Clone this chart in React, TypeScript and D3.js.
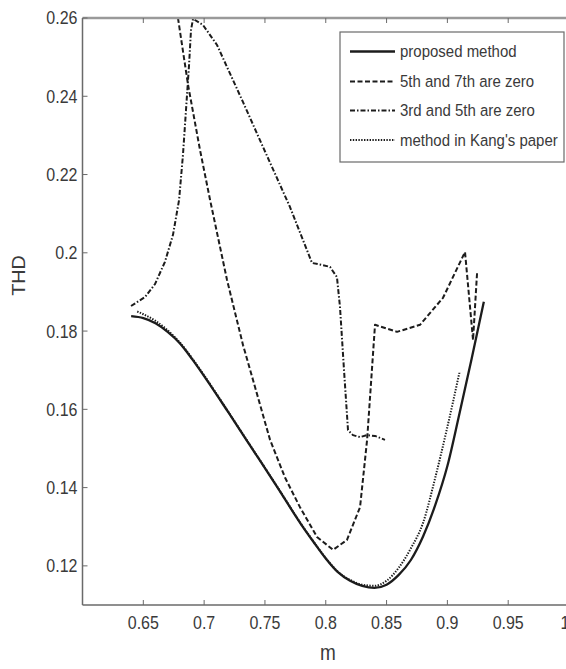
import React from "react";
import * as d3 from "d3";

// ---- data ----
const xTicks = [0.65, 0.7, 0.75, 0.8, 0.85, 0.9, 0.95, 1];
const yTicks = [0.12, 0.14, 0.16, 0.18, 0.2, 0.22, 0.24, 0.26];

const proposedM = [0.64, 0.65, 0.66, 0.67, 0.68, 0.69, 0.7, 0.72, 0.74, 0.76, 0.78, 0.79, 0.8, 0.81, 0.82, 0.83, 0.84, 0.85, 0.86, 0.87, 0.88, 0.89, 0.9, 0.91, 0.92, 0.93];
const proposedTHD = [0.1838, 0.1833, 0.182, 0.1798, 0.1769, 0.1729, 0.1685, 0.1592, 0.1497, 0.1402, 0.1305, 0.1261, 0.1219, 0.1184, 0.1162, 0.1149, 0.1144, 0.1152, 0.1177, 0.1215, 0.1275, 0.1355, 0.1455, 0.159, 0.173, 0.1875];

const kangM = [0.645, 0.65, 0.66, 0.67, 0.68, 0.69, 0.7, 0.72, 0.74, 0.76, 0.78, 0.79, 0.8, 0.81, 0.82, 0.83, 0.84, 0.85, 0.86, 0.87, 0.88, 0.89, 0.9, 0.91];
const kangTHD = [0.185, 0.1843, 0.1826, 0.1802, 0.1771, 0.1731, 0.1687, 0.1593, 0.1498, 0.1403, 0.1306, 0.1262, 0.122, 0.1185, 0.1164, 0.1152, 0.1149, 0.1162, 0.1195, 0.1245, 0.131, 0.1425, 0.1555, 0.1695];

const zero57M = [0.6785, 0.6868, 0.6966, 0.7049, 0.7188, 0.732, 0.7402, 0.7542, 0.7666, 0.7788, 0.7928, 0.806, 0.8174, 0.8282, 0.834, 0.8405, 0.8586, 0.8775, 0.8964, 0.9145, 0.9211, 0.9244];
const zero57THD = [0.26, 0.2429, 0.2263, 0.2135, 0.1931, 0.1764, 0.1675, 0.1522, 0.1425, 0.135, 0.1274, 0.1241, 0.1266, 0.135, 0.1522, 0.1816, 0.1798, 0.1816, 0.1885, 0.2002, 0.1777, 0.1948];

const zero35M = [0.6399, 0.6514, 0.6596, 0.6678, 0.6744, 0.6794, 0.6826, 0.6851, 0.6876, 0.6892, 0.6909, 0.6991, 0.7106, 0.732, 0.7476, 0.7706, 0.7887, 0.7969, 0.8035, 0.8092, 0.8117, 0.815, 0.8183, 0.8224, 0.8282, 0.8339, 0.8405, 0.8487];
const zero35THD = [0.1864, 0.1887, 0.192, 0.1977, 0.2046, 0.2135, 0.225, 0.2365, 0.248, 0.2569, 0.2598, 0.2582, 0.2531, 0.2385, 0.2276, 0.2117, 0.1974, 0.1969, 0.1964, 0.1938, 0.1862, 0.1701, 0.1547, 0.1534, 0.1529, 0.1534, 0.1532, 0.1522];

const legendLabels = ["proposed method", "5th and 7th are zero", "3rd and 5th are zero", "method in Kang's paper"];

// ---- layout ----
const W = 566;
const H = 669;
const left = 82.5;
const right = 569;
const top = 18;
const bottom = 605;

const FONT = "'Liberation Sans', Arial, Helvetica, sans-serif";

function TallText(props: { x: number; y: number; size: number; anchor?: string; fill: string; sy?: number; children: React.ReactNode }) {
  const sy = props.sy ?? 1.15;
  return (
    <g transform={`translate(${props.x},${props.y}) scale(1,${sy})`}>
      <text x={0} y={0} dy="0.35em" textAnchor={props.anchor || "start"} fontSize={props.size} fill={props.fill}>
        {props.children}
      </text>
    </g>
  );
}

export default function App() {
  const x = d3.scaleLinear().domain([0.6, 1.0]).range([left, right]);
  const y = d3.scaleLinear().domain([0.11, 0.26]).range([bottom, top]);
  const zip = (a: number[], b: number[]) => a.map((v, i) => [v, b[i]] as [number, number]);
  const smooth = d3
    .line<[number, number]>()
    .x((d) => x(d[0]))
    .y((d) => y(d[1]))
    .curve(d3.curveMonotoneX);
  const straight = d3
    .line<[number, number]>()
    .x((d) => x(d[0]))
    .y((d) => y(d[1]));

  const series = [
    { d: zip(proposedM, proposedTHD), dash: "none", w: 2.3, gen: smooth },
    { d: zip(zero57M, zero57THD), dash: "5,2.5", w: 2, gen: straight },
    { d: zip(zero35M, zero35THD), dash: "5,2,1.5,2", w: 2, gen: straight },
    { d: zip(kangM, kangTHD), dash: "1.4,1.4", w: 2, gen: smooth },
  ];

  const axisColor = "#6a6a6a";
  const textColor = "#3a3a3a";

  const legX = 340;
  const legY = 32;
  const legW = 224;
  const legH = 130;
  const rowY = [51.5, 81.5, 110.5, 140];

  return (
    <svg
      width={W}
      height={H}
      style={{ position: "absolute", left: 0, top: 0, background: "#fff" }}
      fontFamily={FONT}
    >
      <defs>
        <clipPath id="plotClip">
          <rect x={left} y={top} width={right - left} height={bottom - top} />
        </clipPath>
      </defs>
      <rect x={0} y={0} width={W} height={H} fill="#fff" />

      {/* series */}
      <g clipPath="url(#plotClip)" fill="none" stroke="#1c1c1c" strokeLinejoin="round">
        {series.map((s, i) => (
          <path key={i} d={s.gen(s.d) || ""} strokeWidth={s.w} strokeDasharray={s.dash} />
        ))}
      </g>

      {/* axes box */}
      <line x1={left} x2={right} y1={top} y2={top} stroke="#9a9a9a" strokeWidth={2.5} />
      <line x1={left} x2={right} y1={bottom} y2={bottom} stroke={axisColor} strokeWidth={1.5} />
      <line x1={left} x2={left} y1={top} y2={bottom} stroke={axisColor} strokeWidth={1.5} />
      <line x1={right} x2={right} y1={top} y2={bottom} stroke={axisColor} strokeWidth={1.5} />

      {/* x ticks */}
      {xTicks.map((t) => (
        <g key={"x" + t}>
          <line x1={x(t)} x2={x(t)} y1={bottom} y2={bottom - 5} stroke={axisColor} strokeWidth={1} />
          <line x1={x(t)} x2={x(t)} y1={top} y2={top + 5} stroke={axisColor} strokeWidth={1} />
          <TallText x={t === 1 ? x(t) - 4 : x(t)} y={bottom + 18} size={16} anchor="middle" fill={textColor}>
            {String(t)}
          </TallText>
        </g>
      ))}

      {/* y ticks */}
      {yTicks.map((t) => (
        <g key={"y" + t}>
          <line x1={left} x2={left + 5} y1={y(t)} y2={y(t)} stroke={axisColor} strokeWidth={1} />
          <TallText x={left - 5} y={y(t)} size={16} anchor="end" fill={textColor}>
            {String(Number(t.toFixed(2)))}
          </TallText>
        </g>
      ))}

      {/* axis labels */}
      <TallText x={328} y={652} size={19} anchor="middle" fill={textColor}>
        m
      </TallText>
      <g transform={`translate(19, ${(top + bottom) / 2 - 36}) rotate(-90) scale(1.1,1)`}>
        <text x={0} y={0} dy="0.35em" textAnchor="middle" fontSize={18} fill={textColor}>
          THD
        </text>
      </g>

      {/* legend */}
      <rect x={legX} y={legY} width={legW} height={legH} fill="#fff" stroke={axisColor} strokeWidth={1.2} />
      {legendLabels.map((lab, i) => (
        <g key={lab}>
          <line
            x1={legX + 10}
            x2={legX + 55}
            y1={rowY[i]}
            y2={rowY[i]}
            stroke="#1c1c1c"
            strokeWidth={series[i].w}
            strokeDasharray={series[i].dash}
          />
          <TallText x={legX + 60} y={rowY[i]} size={15} fill={textColor} sy={1.12}>
            {lab}
          </TallText>
        </g>
      ))}
    </svg>
  );
}
